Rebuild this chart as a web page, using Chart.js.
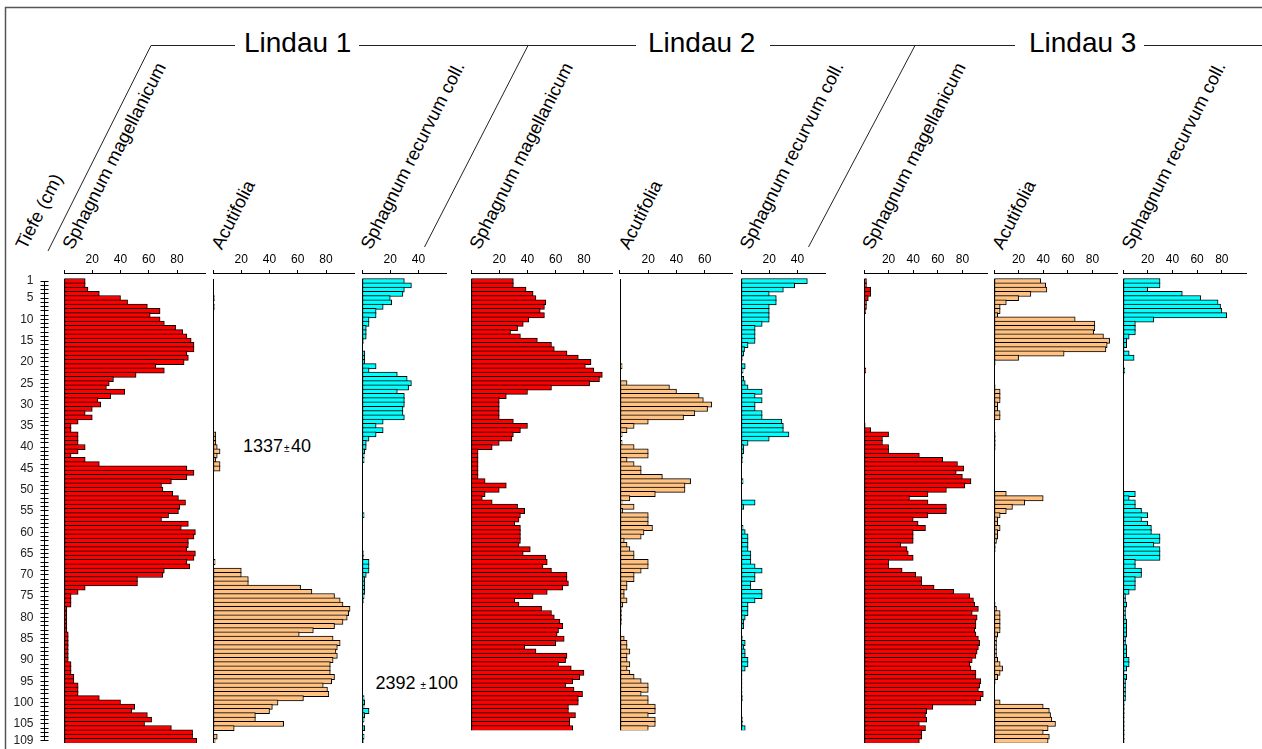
<!DOCTYPE html>
<html lang="de">
<head>
<meta charset="utf-8">
<title>Sphagnum – Lindau 1–3</title>
<script src="https://cdn.jsdelivr.net/npm/chart.js@4.4.1/dist/chart.umd.min.js"></script>
<style>
  html, body { margin: 0; padding: 0; background: #fff; }
  #figure { position: relative; width: 1262px; height: 749px; overflow: hidden; background: #fff; }
  #figure canvas { position: absolute; }
  #deco { position: absolute; left: 0; top: 0; }
  #deco text { font-family: "Liberation Sans", Arial, Helvetica, sans-serif; fill: #000; }
</style>
</head>
<body>
<div id="figure">
  <svg id="deco" width="1262" height="749" xmlns="http://www.w3.org/2000/svg"></svg>
</div>
<script>
// ---- labels ---------------------------------------------------------------
const SITES = ['Lindau 1', 'Lindau 2', 'Lindau 3'];
const TAXA = ['Sphagnum magellanicum', 'Acutifolia', 'Sphagnum recurvum coll.'];
const DEPTH_TITLE = 'Tiefe (cm)';
const DEPTH_TICK_LABELS = [1, 5, 10, 15, 20, 25, 30, 35, 40, 45, 50, 55, 60, 65, 70, 75, 80, 85, 90, 95, 100, 105, 109];
const TICKS_100 = [0, 20, 40, 60, 80];
const TICKS_80 = [0, 20, 40, 60];
const TICKS_60 = [0, 20, 40];
const DATES = [
  { age: '1337', err: '40' },
  { age: '2392', err: '100' }
];

// ---- percentages per 1 cm sample (top = 1 cm) ------------------------------
const lindau1Magellanicum = [
  15, 15, 17, 25, 40, 45, 59, 68, 61, 68,
  71, 79, 84, 87, 90, 92, 92, 87, 88, 85,
  65, 71, 51, 35, 32, 30, 43, 33, 24, 26,
  20, 15, 20, 10, 5, 5, 10, 10, 10, 15,
  10, 5, 15, 25, 87, 92, 87, 76, 69, 70,
  77, 81, 86, 82, 81, 74, 69, 88, 83, 93,
  92, 88, 88, 87, 93, 92, 87, 89, 71, 70,
  52, 52, 15, 10, 5, 5, 5, 2, 2, 2,
  2, 2, 2, 3, 3, 3, 3, 3, 3, 3,
  5, 5, 5, 7, 7, 10, 10, 10, 25, 40,
  50, 48, 59, 62, 57, 76, 91, 91, 94
];
const lindau1Acutifolia = [
  0, 0, 0, 0, 1, 0, 1, 0, 0, 0,
  0, 0, 0, 0, 0, 0, 0, 0, 0, 0,
  0, 0, 0, 0, 0, 0, 0, 0, 0, 0,
  0, 0, 0, 0, 0, 0, 2, 2, 2, 3,
  5, 3, 2, 5, 5, 0, 0, 0, 0, 0,
  0, 0, 0, 0, 0, 0, 0, 0, 0, 0,
  0, 0, 0, 0.5, 0, 0, 1.5, 0, 20, 20,
  25, 25, 62, 70, 86, 90, 92, 97, 96, 95,
  92, 86, 71, 61, 85, 90, 88, 87, 88, 85,
  83, 83, 83, 86, 84, 78, 81, 82, 64, 46,
  42, 40, 30, 30, 50, 15, 0, 3, 1.5
];
const lindau1Recurvum = [
  30, 35, 30, 29, 20, 21, 15, 10, 10, 5,
  5, 3, 3, 3, 1, 0.5, 0.5, 2, 2, 2,
  10, 5, 25, 32, 35, 33, 25, 30, 30, 30,
  29, 29, 30, 15, 10, 15, 10, 5, 3, 3,
  2, 1.5, 1.5, 0.5, 0.5, 0.5, 0, 0, 0, 0,
  0, 0, 0, 0, 0, 1.5, 0, 0, 0, 0,
  0, 0, 0, 0, 1, 1, 5, 5, 5, 3,
  2, 2, 2, 2, 1.5, 1, 0, 0, 0, 0,
  0, 0, 0, 0, 0, 0, 0, 0.5, 0.5, 0.5,
  0, 0, 0, 0, 0.5, 0.5, 0, 0, 1.5, 2,
  1.5, 5, 2, 1.5, 0, 2, 0, 1.5, 1
];
const lindau2Magellanicum = [
  30, 30, 39, 44, 46, 53, 52, 49, 52, 41,
  37, 33, 28, 35, 47, 57, 59, 68, 76, 85,
  81, 87, 93, 91, 84, 57, 40, 25, 20, 20,
  20, 20, 20, 30, 40, 35, 30, 29, 20, 15,
  5, 5, 5, 5, 5, 5, 5, 10, 25, 20,
  10, 8, 15, 33, 38, 35, 34, 31, 35, 35,
  35, 35, 34, 42, 37, 53, 54, 51, 57, 68,
  68, 69, 65, 54, 44, 31, 34, 50, 57, 59,
  63, 65, 62, 61, 66, 60, 38, 46, 68, 67,
  62, 71, 80, 77, 72, 67, 73, 79, 76, 76,
  69, 69, 74, 70, 70, 72
];
const lindau2Acutifolia = [
  0, 0, 0, 0, 0, 0, 0, 0, 0, 0,
  0, 0, 0, 0, 0, 0, 0, 0, 0, 0,
  1.5, 0, 0, 0, 5, 35, 40, 56, 59, 65,
  62, 53, 45, 20, 10, 5, 1.5, 0, 1.5, 10,
  20, 20, 5, 10, 15, 15, 30, 50, 46, 46,
  25, 7, 1.5, 10, 2, 20, 20, 20, 23, 17,
  15, 3, 5, 7, 10, 10, 20, 20, 15, 10,
  10, 5, 5, 3, 3, 5, 2, 1, 1, 1,
  1, 0, 0, 0, 3, 5, 5, 7, 5, 5,
  7, 5, 7, 10, 15, 20, 20, 15, 20, 20,
  25, 25, 20, 25, 25, 20
];
const lindau2Recurvum = [
  47, 38, 30, 20, 25, 25, 20, 20, 20, 20,
  15, 10, 10, 10, 10, 5, 2.5, 2, 1, 0,
  3, 1.5, 0, 2, 3, 5, 15, 10, 15, 10,
  10, 15, 15, 29, 30, 30, 34, 20, 5, 2,
  2, 1, 1, 0.5, 0.5, 0.5, 0.5, 1.5, 0.5, 0.5,
  0.5, 0.5, 10, 2, 0.5, 0.5, 0.5, 0.5, 1.5, 3,
  5, 5, 5, 5, 7, 7, 7, 10, 15, 10,
  10, 7, 7, 15, 15, 10, 5, 5, 5, 3,
  2, 2, 0.5, 0.5, 1, 3, 2, 3, 3, 5,
  5, 3, 0.7, 0.7, 0.7, 0.7, 0.7, 0.7, 1, 0.3,
  0.3, 0.3, 0.3, 1, 1, 3
];
const lindau3Magellanicum = [
  2, 2, 5.5, 5.5, 3.5, 2, 2, 1.3, 0.5, 0.5,
  0.5, 0.5, 0, 0, 0, 0, 0, 0, 0, 0,
  0, 1.5, 0, 0, 0.5, 0, 0, 0, 0.5, 0,
  0, 0, 0, 0, 1, 5.5, 20, 15, 15, 20,
  20, 45, 64, 76, 81, 75, 80, 87, 82, 67,
  52, 37, 52, 67, 67, 52, 40, 44, 50, 40,
  40, 40, 30, 35, 36, 40, 20, 20, 31, 42,
  47, 47, 57, 73, 86, 89, 90, 93, 88, 92,
  91, 91, 90, 91, 93, 94, 93, 92, 91, 88,
  86, 87, 91, 91, 95, 94, 93, 97, 95, 91,
  56, 51, 50, 51, 45, 50, 47, 47, 45
];
const lindau3Acutifolia = [
  38, 42, 43, 30, 20, 10, 5, 5, 3, 66,
  82, 82, 81, 89, 94, 92, 91, 57, 20, 1,
  0, 0.5, 0, 0.5, 0, 1, 5, 5, 5, 3,
  3, 5, 5, 0, 0, 0, 1, 1, 1, 1,
  0, 0, 0, 0, 0, 0, 0, 0, 0, 0,
  10, 40, 25, 15, 10, 5, 3, 3, 5, 3,
  3, 2, 1, 1, 0, 0, 0, 0, 0, 0,
  0, 0, 0, 0, 0, 0, 1, 2, 5, 5,
  5, 5, 5, 3, 2, 2, 2, 2, 2, 3,
  5, 7, 5, 3, 1, 0.5, 0.5, 0.5, 0.5, 5,
  40, 45, 46, 47, 50, 44, 40, 45, 44
];
const lindau3Recurvum = [
  30, 30, 20, 48, 63, 77, 79, 80, 84, 25,
  10, 10, 10, 5, 3, 3, 1, 5, 9, 0,
  0, 1.5, 0, 0, 0, 0, 0, 0, 0, 0,
  0, 0, 0, 0, 0, 0, 0, 0, 0, 0,
  0, 0, 0, 0, 0, 0, 0, 0, 0, 0,
  10, 5, 10, 10, 15, 20, 15, 20, 23, 23,
  30, 30, 25, 30, 30, 30, 10, 10, 15, 15,
  10, 10, 10, 5, 2, 2, 3, 2, 2, 2,
  3, 3, 3, 3, 2, 2, 3, 3, 3, 5,
  5, 3, 1, 3, 2, 2, 2, 2, 2, 1,
  1, 1, 1, 1, 1, 1, 1, 1, 1
];

// ---- styling & layout --------------------------------------------------------
const FONT = '"Liberation Sans", Arial, Helvetica, sans-serif';
const RED = '#ff0000';
const TAN = '#ffc282';
const CYAN = '#00ffff';

const ROW_H = 464 / 109;        // height of one 1-cm sample row
const AXIS_Y = 273;             // y of the percentage axes
const FIRST_ROW_TOP = 279;      // top edge of the 1 cm row
const AXIS_H = 28;              // room reserved for the top axes
const Y_MIN = 0.5 - (FIRST_ROW_TOP - AXIS_Y) / ROW_H;

const PANELS = [
  { site: 0, taxon: 0, left: 63.3,   ppu: 1.42, max: 100, ticks: TICKS_100, values: lindau1Magellanicum, color: RED },
  { site: 0, taxon: 1, left: 212.3,  ppu: 1.42, max: 100, ticks: TICKS_100, values: lindau1Acutifolia,   color: TAN },
  { site: 0, taxon: 2, left: 361.5,  ppu: 1.42, max: 60,  ticks: TICKS_60,  values: lindau1Recurvum,     color: CYAN },
  { site: 1, taxon: 0, left: 470.2,  ppu: 1.42, max: 100, ticks: TICKS_100, values: lindau2Magellanicum, color: RED },
  { site: 1, taxon: 1, left: 619.4,  ppu: 1.42, max: 80,  ticks: TICKS_80,  values: lindau2Acutifolia,   color: TAN },
  { site: 1, taxon: 2, left: 740.5,  ppu: 1.42, max: 60,  ticks: TICKS_60,  values: lindau2Recurvum,     color: CYAN },
  { site: 2, taxon: 0, left: 863,    ppu: 1.24, max: 100, ticks: TICKS_100, values: lindau3Magellanicum, color: RED },
  { site: 2, taxon: 1, left: 993,    ppu: 1.24, max: 100, ticks: TICKS_100, values: lindau3Acutifolia,   color: TAN },
  { site: 2, taxon: 2, left: 1122.5, ppu: 1.24, max: 100, ticks: TICKS_100, values: lindau3Recurvum,     color: CYAN }
];

// ---- header: frame, site brackets, rotated column titles, dates ------------
const SVGNS = 'http://www.w3.org/2000/svg';
const deco = document.getElementById('deco');
function svg(tag, attrs, text) {
  const el = document.createElementNS(SVGNS, tag);
  for (const k in attrs) el.setAttribute(k, attrs[k]);
  if (text !== undefined) el.textContent = text;
  deco.appendChild(el);
  return el;
}
svg('path', { d: 'M5.5 749 V7.5 H1262', stroke: '#555', 'stroke-width': 1.5, fill: 'none' });

const HEADER_LINES = [
  [151, 45.5, 235, 45.5], [359, 45.5, 636, 45.5], [770, 45.5, 1015, 45.5], [1144, 45.5, 1262, 45.5],
  [151, 45.5, 48, 251], [528, 45.5, 424.5, 247], [915, 45.5, 808.5, 247]
];
HEADER_LINES.forEach(([x1, y1, x2, y2]) =>
  svg('line', { x1, y1, x2, y2, stroke: '#222', 'stroke-width': 1 }));

const SITE_X = [244, 648, 1029];
SITES.forEach((s, i) => svg('text', { x: SITE_X[i], y: 52, 'font-size': 28 }, s));

const LABEL_ANGLE = -63;
const LABEL_Y = 250.5;
function slanted(x, text) {
  svg('text', { x, y: LABEL_Y, 'font-size': 18.3, transform: `rotate(${LABEL_ANGLE} ${x} ${LABEL_Y})` }, text);
}
slanted(26, DEPTH_TITLE);
PANELS.forEach(p => slanted(p.left + 9.5, TAXA[p.taxon]));

// radiocarbon dates: [x, baseline y, gap before ±, gap after ±]
const DATE_POS = [[243, 451.5, 1, 1.5], [375.5, 689, 5, 2]];
DATES.forEach((d, i) => {
  const [x, y, g1, g2] = DATE_POS[i];
  const t = svg('text', { x, y, 'font-size': 18 });
  t.appendChild(document.createTextNode(d.age));
  const pm = document.createElementNS(SVGNS, 'tspan');
  pm.setAttribute('font-size', 10); pm.setAttribute('dx', g1); pm.textContent = '±';
  t.appendChild(pm);
  const er = document.createElementNS(SVGNS, 'tspan');
  er.setAttribute('dx', g2); er.textContent = d.err;
  t.appendChild(er);
});

// ---- charts -----------------------------------------------------------------
Chart.defaults.font.family = FONT;
Chart.defaults.color = '#000';
const fig = document.getElementById('figure');

function addCanvas(left, top, w, h) {
  const c = document.createElement('canvas');
  c.width = w; c.height = h;
  c.style.left = left + 'px'; c.style.top = top + 'px';
  c.style.width = w + 'px'; c.style.height = h + 'px';
  fig.appendChild(c);
  return c;
}

// vertical zero line of each curve, spanning its sampled rows
const baselinePlugin = {
  id: 'baseline',
  afterDatasetsDraw(chart) {
    const { ctx, scales: { x, y } } = chart;
    const n = chart.data.datasets[0].data.length;
    const px = Math.round(x.getPixelForValue(0)) + 0.5;
    ctx.save();
    ctx.strokeStyle = '#000';
    ctx.lineWidth = 1;
    ctx.beginPath();
    ctx.moveTo(px, y.getPixelForValue(0.5));
    ctx.lineTo(px, y.getPixelForValue(n + 0.5));
    ctx.stroke();
    ctx.restore();
  }
};

PANELS.forEach(p => {
  const rows = p.values.length;
  const areaW = p.max * p.ppu;
  const areaH = (rows + 0.5 - Y_MIN) * ROW_H;
  const cLeft = Math.floor(p.left) - 2;
  const padL = p.left - cLeft;
  const cW = Math.ceil(padL + areaW + 2);
  const padR = cW - padL - areaW;
  const cTop = AXIS_Y - AXIS_H;
  const cH = Math.ceil(AXIS_H + areaH + 4);
  const padB = cH - AXIS_H - areaH;
  new Chart(addCanvas(cLeft, cTop, cW, cH), {
    type: 'bar',
    data: {
      datasets: [{
        data: p.values.map((v, i) => ({ x: v, y: i + 1 })),
        backgroundColor: p.color,
        borderColor: '#000',
        borderWidth: 1,
        borderSkipped: false,
        barThickness: ROW_H + 1
      }]
    },
    options: {
      indexAxis: 'y',
      responsive: false,
      animation: false,
      devicePixelRatio: 1,
      layout: { padding: { left: padL, right: padR, top: 0, bottom: padB } },
      plugins: { legend: { display: false }, tooltip: { enabled: false } },
      scales: {
        x: {
          type: 'linear', position: 'top', min: 0, max: p.max, bounds: 'data', offset: false,
          afterBuildTicks: s => { s.ticks = p.ticks.map(v => ({ value: v })); },
          afterFit: s => { s.height = AXIS_H; },
          ticks: {
            autoSkip: false, maxRotation: 0, padding: 3, color: '#000',
            font: { family: FONT, size: 12 },
            callback: v => (v === 0 ? '' : String(v))
          },
          grid: { drawOnChartArea: false, drawTicks: true, tickLength: 3, color: '#000', lineWidth: 1, offset: false },
          border: { display: true, color: '#000', width: 1 }
        },
        y: {
          type: 'linear', reverse: true, min: Y_MIN, max: rows + 0.5, bounds: 'data',
          offset: false, grid: { offset: false }, display: false
        }
      }
    },
    plugins: [baselinePlugin]
  });
});

// depth scale (one tick per cm, labelled every 5 cm)
const DEPTHS = lindau1Magellanicum.map((_, i) => i + 1);
(function depthAxis() {
  const first = DEPTHS[0], last = DEPTHS[DEPTHS.length - 1];
  const areaTop = FIRST_ROW_TOP + ROW_H / 2;
  const areaH = (last - first) * ROW_H;
  const cTop = AXIS_Y - AXIS_H;
  const padTop = areaTop - cTop;
  const cW = 49, axisX = 44.5, tick = 4;
  const cH = Math.ceil(padTop + areaH + 14);
  new Chart(addCanvas(0, cTop, cW, cH), {
    type: 'scatter',
    data: { datasets: [] },
    options: {
      responsive: false,
      animation: false,
      devicePixelRatio: 1,
      layout: { padding: { left: 0, right: cW - axisX - tick, top: padTop, bottom: cH - padTop - areaH } },
      plugins: { legend: { display: false }, tooltip: { enabled: false } },
      scales: {
        x: { display: false, min: 0, max: 1 },
        y: {
          type: 'linear', reverse: true, min: first, max: last, bounds: 'data', position: 'left', offset: false,
          afterBuildTicks: s => { s.ticks = DEPTHS.map(v => ({ value: v })); },
          afterFit: s => { s.width = axisX; },
          ticks: {
            autoSkip: false, padding: 7, color: '#222',
            font: { family: FONT, size: 12 },
            callback: v => (DEPTH_TICK_LABELS.includes(v) ? String(v) : '')
          },
          grid: { color: '#000', lineWidth: 1, tickLength: tick, drawOnChartArea: true },
          border: { display: true, color: '#000', width: 1 }
        }
      }
    }
  });
})();
</script>
</body>
</html>
